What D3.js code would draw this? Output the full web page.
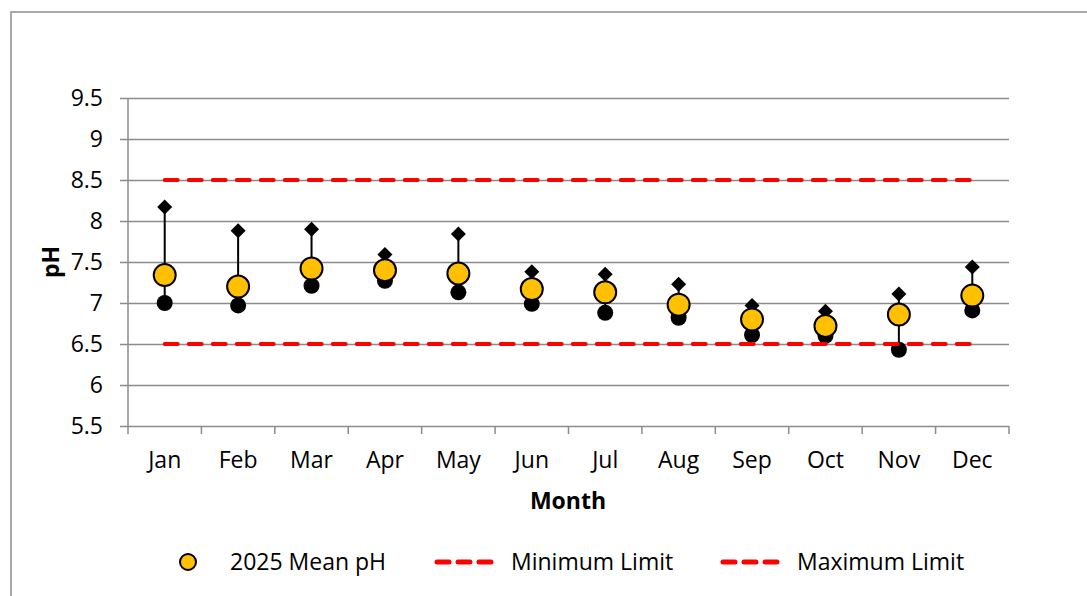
<!DOCTYPE html>
<html>
<head>
<meta charset="utf-8">
<script src="https://cdn.jsdelivr.net/npm/d3@7"></script>
<style>
  body { margin: 0; background: #fff; }
  text { font-family: "Open Sans", sans-serif; fill: #000; }
</style>
</head>
<body>
<div id="chart"></div>
<script>
// monthly pH values
var months = ["Jan","Feb","Mar","Apr","May","Jun","Jul","Aug","Sep","Oct","Nov","Dec"];
var meanPH = [7.34, 7.20, 7.42, 7.40, 7.36, 7.17, 7.13, 6.98, 6.80, 6.72, 6.86, 7.09];
var maxPH  = [8.17, 7.88, 7.90, 7.59, 7.84, 7.38, 7.35, 7.23, 6.97, 6.90, 7.11, 7.44];
var minPH  = [7.00, 6.97, 7.21, 7.27, 7.13, 6.99, 6.88, 6.82, 6.61, 6.60, 6.43, 6.91];
var minLimit = 6.5;
var maxLimit = 8.5;
var yTicks = [5.5, 6, 6.5, 7, 7.5, 8, 8.5, 9, 9.5];

var w = 1087;
var h = 596;
var plotLeft = 128, plotRight = 1009, plotTop = 98, plotBottom = 426;
var fs = "23px";

var rows = months.map(function(m, i){
    return {month: m, mean: meanPH[i], max: maxPH[i], min: minPH[i]};
});

var svg = d3.select("#chart")
    .append("svg")
    .attr("width", w)
    .attr("height", h);

// outer frame (runs off the right / bottom edge like the original)
svg.append("rect")
    .attr("x", 11).attr("y", 12)
    .attr("width", 1200).attr("height", 700)
    .attr("fill", "none")
    .attr("stroke", "#8c8c8c")
    .attr("stroke-width", 1.5);

var x = d3.scaleBand().domain(months).range([plotLeft, plotRight]).padding(0);
var y = d3.scaleLinear().domain([5.5, 9.5]).range([plotBottom, plotTop]);

// y grid + labels
var yAxis = svg.append("g")
    .attr("transform", "translate(" + (plotLeft - 8) + ",0)")
    .call(d3.axisLeft(y).tickValues(yTicks).tickSizeInner(-(plotRight - plotLeft + 8)).tickSizeOuter(0).tickPadding(17).tickFormat(d3.format("")));
yAxis.select(".domain").remove();
yAxis.selectAll("line").attr("stroke", "#8c8c8c").attr("stroke-width", 1.5);
yAxis.selectAll("text").style("font-size", fs).attr("font-family", "Open Sans");

// y axis line
svg.append("line")
    .attr("x1", plotLeft).attr("x2", plotLeft)
    .attr("y1", y(9.5)).attr("y2", plotBottom)
    .attr("stroke", "#8c8c8c").attr("stroke-width", 1.5);

// x tick marks at band edges
var edges = months.map(function(m){ return x(m); }).concat([x(months[months.length-1]) + x.bandwidth()]);
svg.selectAll(".xtick")
    .data(edges)
    .enter()
    .append("line")
    .attr("class", "xtick")
    .attr("x1", function(d){ return d; })
    .attr("x2", function(d){ return d; })
    .attr("y1", plotBottom)
    .attr("y2", plotBottom + 8)
    .attr("stroke", "#8c8c8c").attr("stroke-width", 1.5);

// x labels
var xAxis = svg.append("g")
    .attr("transform", "translate(0," + plotBottom + ")")
    .call(d3.axisBottom(x).tickSize(0).tickPadding(26));
xAxis.select(".domain").remove();
xAxis.selectAll("text").style("font-size", fs).attr("font-family", "Open Sans");

// high-low lines
svg.selectAll(".hilo")
    .data(rows)
    .enter()
    .append("line")
    .attr("class", "hilo")
    .attr("x1", function(d){ return x(d.month) + x.bandwidth()/2; })
    .attr("x2", function(d){ return x(d.month) + x.bandwidth()/2; })
    .attr("y1", function(d){ return y(d.min); })
    .attr("y2", function(d){ return y(d.max); })
    .attr("stroke", "#000")
    .attr("stroke-width", 2);

// min markers
svg.selectAll(".minpt")
    .data(rows)
    .enter()
    .append("circle")
    .attr("class", "minpt")
    .attr("cx", function(d){ return x(d.month) + x.bandwidth()/2; })
    .attr("cy", function(d){ return y(d.min); })
    .attr("r", 8)
    .attr("fill", "#000");

// max markers (diamonds)
svg.selectAll(".maxpt")
    .data(rows)
    .enter()
    .append("path")
    .attr("class", "maxpt")
    .attr("d", "M0,-7.5L7.5,0L0,7.5L-7.5,0Z")
    .attr("transform", function(d){ return "translate(" + (x(d.month) + x.bandwidth()/2) + "," + y(d.max) + ")"; })
    .attr("fill", "#000");

// limit lines
var first = x(months[0]) + x.bandwidth()/2;
var last = x(months[months.length-1]) + x.bandwidth()/2;
[minLimit, maxLimit].forEach(function(v){
    svg.append("line")
        .attr("x1", first).attr("x2", last)
        .attr("y1", y(v)).attr("y2", y(v))
        .attr("stroke", "#ff0000")
        .attr("stroke-width", 4)
        .attr("stroke-linecap", "round")
        .style("stroke-dasharray", "13,11");
});

// mean markers
svg.selectAll(".meanpt")
    .data(rows)
    .enter()
    .append("circle")
    .attr("class", "meanpt")
    .attr("cx", function(d){ return x(d.month) + x.bandwidth()/2; })
    .attr("cy", function(d){ return y(d.mean); })
    .attr("r", 11)
    .attr("fill", "#ffc000")
    .attr("stroke", "#000")
    .attr("stroke-width", 2);

// axis titles
svg.append("text")
    .attr("x", 568).attr("y", 509)
    .attr("text-anchor", "middle")
    .style("font-size", fs).style("font-weight", "bold")
    .text("Month");

svg.append("text")
    .attr("transform", "translate(59,262) rotate(-90)")
    .attr("text-anchor", "middle")
    .style("font-size", fs).style("font-weight", "bold")
    .text("pH");

// legend
var ly = 562;
svg.append("circle")
    .attr("cx", 188).attr("cy", ly).attr("r", 8)
    .attr("fill", "#ffc000").attr("stroke", "#000").attr("stroke-width", 2);
svg.append("text")
    .attr("x", 230).attr("y", ly).attr("dy", "0.35em")
    .style("font-size", fs)
    .text("2025 Mean pH");

var legLines = [{x: 437, label: "Minimum Limit", tx: 511}, {x: 723, label: "Maximum Limit", tx: 797}];
legLines.forEach(function(l){
    svg.append("line")
        .attr("x1", l.x).attr("x2", l.x + 57)
        .attr("y1", ly).attr("y2", ly)
        .attr("stroke", "#ff0000")
        .attr("stroke-width", 5)
        .attr("stroke-linecap", "round")
        .style("stroke-dasharray", "12,9");
    svg.append("text")
        .attr("x", l.tx).attr("y", ly).attr("dy", "0.35em")
        .style("font-size", fs)
        .text(l.label);
});
</script>
</body>
</html>
